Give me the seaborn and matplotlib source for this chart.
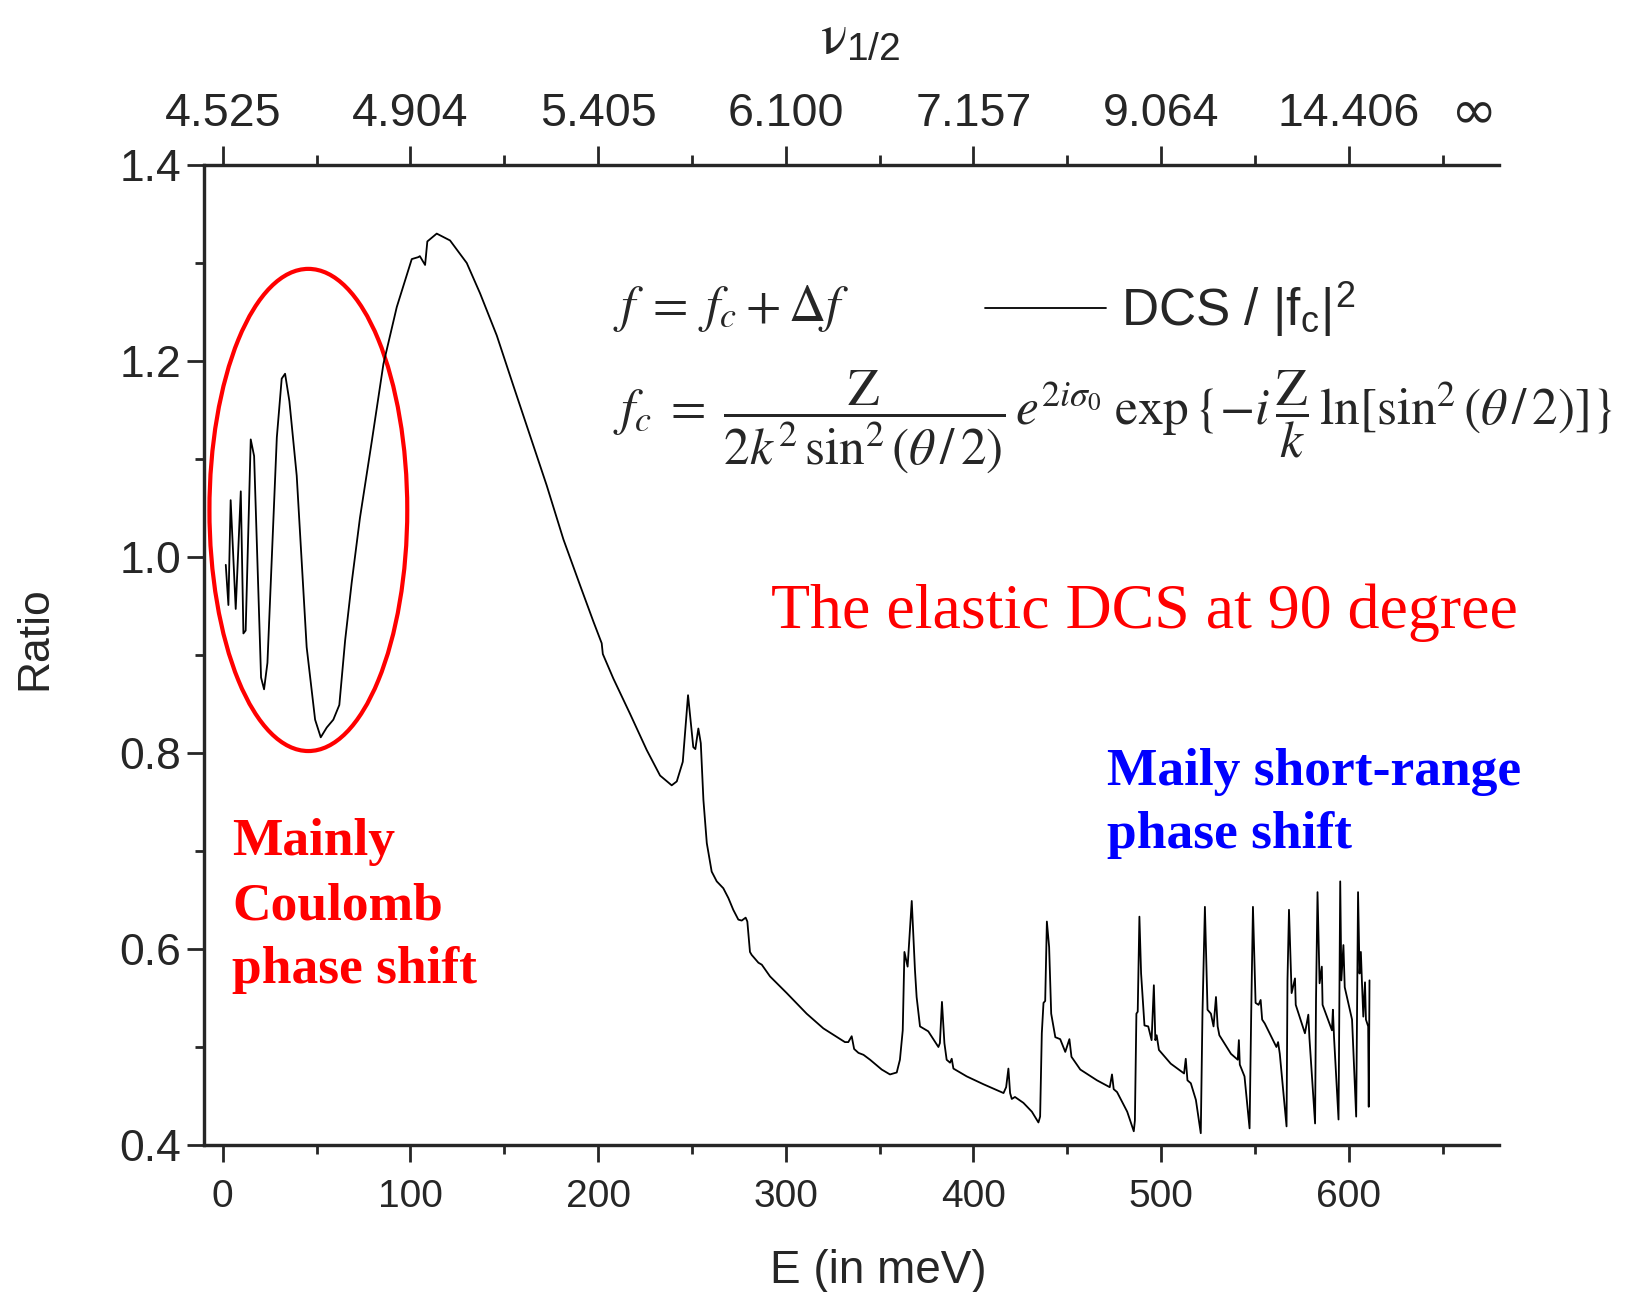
import numpy as np
import pandas as pd
import matplotlib
matplotlib.use('Agg')
import matplotlib.pyplot as plt
import seaborn as sns
from matplotlib.patches import Ellipse
from matplotlib.ticker import FixedLocator
import matplotlib.transforms as mtransforms

# ---------------- data ----------------
energy_mev = [1.6, 3.0, 4.2, 6.9, 9.6, 11.0, 12.2, 14.9, 16.7, 20.4, 22.0, 23.8, 28.8, 31.4, 33.2, 35.5,
              39.4, 44.7, 49.2, 52.2, 55.4, 58.9, 62.1, 65.2, 68.7, 73.1, 79.4, 85.6, 92.7, 100.7, 104.2,
              105.0, 107.8, 109.0, 114.0, 121.1, 130.0, 137.1, 146.0, 154.8, 163.7, 172.6, 181.5, 190.4,
              197.5, 200.1, 201.9, 202.5, 208.1, 217.0, 225.9, 233.0, 239.2, 241.9, 245.1, 247.9, 250.7,
              251.8, 253.4, 254.7, 256.1, 257.9, 260.5, 263.2, 266.7, 269.4, 272.0, 274.7, 276.5, 278.6,
              279.5, 280.9, 281.8, 285.4, 287.2, 291.6, 300.5, 311.1, 320.0, 331.5, 333.3, 335.1, 336.4,
              338.7, 341.4, 344.9, 351.1, 355.5, 359.1, 360.8, 362.3, 363.2, 364.0, 364.9, 367.1, 368.8,
              369.7, 371.5, 375.9, 381.3, 382.1, 383.2, 384.5, 385.7, 387.5, 388.4, 389.3, 396.4, 405.3,
              416.0, 417.4, 418.6, 419.5, 420.4, 422.1, 426.6, 431.1, 434.6, 435.5, 436.4, 437.3, 438.2,
              439.1, 440.3, 441.4, 443.6, 446.2, 448.9, 451.1, 452.2, 456.9, 465.8, 472.6, 473.8, 474.7,
              476.5, 481.9, 485.4, 486.0, 486.8, 487.5, 488.4, 489.3, 491.1, 493.1, 494.9, 496.1, 496.9,
              497.6, 498.8, 505.1, 512.2, 513.1, 514.0, 515.8, 518.5, 521.1, 522.0, 523.3, 524.7, 526.5,
              527.9, 529.2, 530.1, 531.0, 537.2, 540.8, 541.4, 541.9, 544.4, 547.1, 548.0, 548.9, 550.3,
              551.9, 553.0, 553.8, 555.2, 561.4, 562.3, 563.2, 566.8, 567.3, 568.1, 569.5, 571.3, 571.7,
              576.6, 578.4, 579.0, 582.0, 582.5, 583.3, 584.4, 585.6, 586.0, 591.0, 591.5, 592.1, 594.5,
              595.4, 596.0, 597.1, 597.8, 601.7, 603.9, 604.9, 605.7, 606.4, 607.0, 607.7, 608.6, 609.1,
              610.3, 610.6, 611.0]

ratio = [0.992, 0.951, 1.058, 0.947, 1.067, 0.922, 0.925, 1.120, 1.103, 0.877, 0.865, 0.892, 1.122, 1.182,
         1.187, 1.159, 1.083, 0.908, 0.834, 0.816, 0.826, 0.834, 0.849, 0.915, 0.974, 1.040, 1.118, 1.197,
         1.255, 1.304, 1.306, 1.307, 1.298, 1.322, 1.330, 1.323, 1.300, 1.269, 1.226, 1.175, 1.124, 1.073,
         1.018, 0.971, 0.934, 0.921, 0.912, 0.901, 0.876, 0.840, 0.803, 0.777, 0.767, 0.771, 0.791, 0.859,
         0.806, 0.804, 0.825, 0.810, 0.752, 0.708, 0.679, 0.669, 0.662, 0.652, 0.640, 0.630, 0.629, 0.632,
         0.628, 0.597, 0.594, 0.586, 0.584, 0.572, 0.555, 0.534, 0.519, 0.505, 0.505, 0.511, 0.498, 0.494,
         0.492, 0.487, 0.477, 0.472, 0.474, 0.487, 0.517, 0.597, 0.590, 0.582, 0.649, 0.579, 0.551, 0.521,
         0.516, 0.500, 0.504, 0.546, 0.504, 0.487, 0.484, 0.488, 0.478, 0.470, 0.462, 0.453, 0.459, 0.478,
         0.453, 0.447, 0.449, 0.443, 0.434, 0.423, 0.429, 0.514, 0.545, 0.547, 0.628, 0.602, 0.534, 0.510,
         0.508, 0.495, 0.508, 0.490, 0.477, 0.466, 0.459, 0.472, 0.457, 0.454, 0.434, 0.414, 0.425, 0.534,
         0.536, 0.633, 0.575, 0.522, 0.521, 0.507, 0.563, 0.507, 0.512, 0.497, 0.483, 0.473, 0.488, 0.466,
         0.463, 0.446, 0.412, 0.534, 0.643, 0.538, 0.534, 0.521, 0.551, 0.521, 0.512, 0.493, 0.487, 0.507,
         0.482, 0.470, 0.417, 0.538, 0.643, 0.545, 0.543, 0.548, 0.528, 0.524, 0.500, 0.505, 0.493, 0.419,
         0.568, 0.640, 0.555, 0.570, 0.543, 0.514, 0.533, 0.509, 0.422, 0.548, 0.658, 0.565, 0.582, 0.543,
         0.517, 0.538, 0.510, 0.426, 0.669, 0.568, 0.604, 0.561, 0.528, 0.429, 0.658, 0.575, 0.597, 0.565,
         0.531, 0.566, 0.528, 0.521, 0.439, 0.568]

bottom_ticks = [0, 100, 200, 300, 400, 500, 600]
y_ticks = [0.4, 0.6, 0.8, 1.0, 1.2, 1.4]
nu_tick_labels = ['4.525', '4.904', '5.405', '6.100', '7.157', '9.064', '14.406']
coulomb_lines = ['Mainly', 'Coulomb', 'phase shift']
short_range_lines = ['Maily short-range', 'phase shift']

assert len(energy_mev) == len(ratio)
df = pd.DataFrame({'E': energy_mev, 'Ratio': ratio})

# ---------------- style ----------------
sns.set_theme(style='ticks')
plt.rcParams['font.family'] = ['Liberation Sans', 'DejaVu Sans']
plt.rcParams['mathtext.fontset'] = 'stix'
plt.rcParams['axes.linewidth'] = 2.3

W, H = 1639, 1292
fig = plt.figure(figsize=(W / 100, H / 100), dpi=100)
L, R, T, B = 204, 1499, 165, 1145
ax = fig.add_axes([L / W, 1 - B / H, (R - L) / W, (B - T) / H])

sns.lineplot(data=df, x='E', y='Ratio', ax=ax, color='black', linewidth=1.3,
             sort=False, estimator=None, label=r'DCS / |f$_{\mathregular{c}}$|$^{\mathregular{2}}$')

ax.set_xlim(-10, 680)
ax.set_ylim(0.4, 1.4)
ax.spines['right'].set_visible(False)
ax.set_xticks(bottom_ticks)
ax.xaxis.set_minor_locator(FixedLocator([50, 150, 250, 350, 450, 550, 650]))
ax.set_yticks(y_ticks)
ax.set_yticklabels([f'{v:.1f}' for v in y_ticks])
ax.yaxis.set_minor_locator(FixedLocator([0.5, 0.7, 0.9, 1.1, 1.3]))
ax.tick_params(axis='x', which='major', direction='out', length=12.5, width=2.0,
               labelsize=28, pad=12)
ax.tick_params(axis='x', which='minor', direction='out', length=6.5, width=2.0)
ax.tick_params(axis='y', which='major', direction='out', length=12.5, width=2.0,
               labelsize=32, pad=4)
ax.tick_params(axis='y', which='minor', direction='out', length=6.5, width=2.0)

ax.set_xlabel('E (in meV)', fontsize=33)
ax.xaxis.set_label_coords((878 - L) / (R - L), (B - 1249) / (B - T))
ax.set_ylabel('Ratio', fontsize=32)
ax.yaxis.set_label_coords((55 - L) / (R - L), (B - 638) / (B - T))

# top axis
ax2 = ax.twiny()
ax2.set_xlim(ax.get_xlim())
ax2.spines['right'].set_visible(False)
ax2.set_xticks(bottom_ticks)
ax2.set_xticklabels(nu_tick_labels)
ax2.xaxis.set_minor_locator(FixedLocator([50, 150, 250, 350, 450, 550, 650]))
ax2.tick_params(axis='x', which='major', direction='out', length=14, width=2.0,
                labelsize=33.5, pad=7)
ax2.tick_params(axis='x', which='minor', direction='out', length=7, width=2.0)
ax2.set_xlabel(r'$\mathrm{\nu}_{\mathregular{1/2}}$', fontsize=40)
ax2.xaxis.set_label_coords((860 - L) / (R - L), (B - 52) / (B - T))
trans = mtransforms.blended_transform_factory(ax.transData, ax.transAxes)
ax.text(667, (B - 113) / (B - T), '\u221e', transform=trans, fontsize=40,
        ha='center', va='center', family=['DejaVu Sans'])

# ellipse
ax.add_patch(Ellipse((45.6, 1.048), 105.4, 0.492, fill=False, edgecolor='#ff0000',
                     linewidth=3.0))

# legend
ax.legend(loc='center left', bbox_to_anchor=(985 / W, 1 - 309 / H), bbox_transform=fig.transFigure,
          frameon=False, fontsize=37, handlelength=2.35, handletextpad=0.3,
          borderpad=0, borderaxespad=0)

# formulas
fig.text(613 / W, 1 - 309 / H, r'$f\;=\;f_c+\Delta f$', fontsize=37, ha='left', va='center')
fig.text(613 / W, 1 - 422 / H,
         r'$f_c\;=\;\dfrac{\mathrm{Z}}{2k^2\,\sin^2(\theta\,/\,2)}\,e^{2i\sigma_0}\;\exp\{-i\,\dfrac{\mathrm{Z}}{k}\,\ln[\sin^2(\theta\,/\,2)]\}$',
         fontsize=37, ha='left', va='center')

# annotations
fig.text(771 / W, 1 - 628 / H, 'The elastic DCS at 90 degree', color='#ff0000',
         family=['Liberation Serif'], fontsize=46, ha='left', va='baseline')
for i, line in enumerate(coulomb_lines):
    fig.text(232 / W, 1 - (855 + 64 * i) / H, line, color='#ff0000', family=['Liberation Serif'],
             fontweight='bold', fontsize=38.5, ha='left', va='baseline')
for i, line in enumerate(short_range_lines):
    fig.text(1107 / W, 1 - (785 + 63 * i) / H, line, color='#0000ff', family=['Liberation Serif'],
             fontweight='bold', fontsize=38.5, ha='left', va='baseline')

fig.savefig('out.png', dpi=100)
